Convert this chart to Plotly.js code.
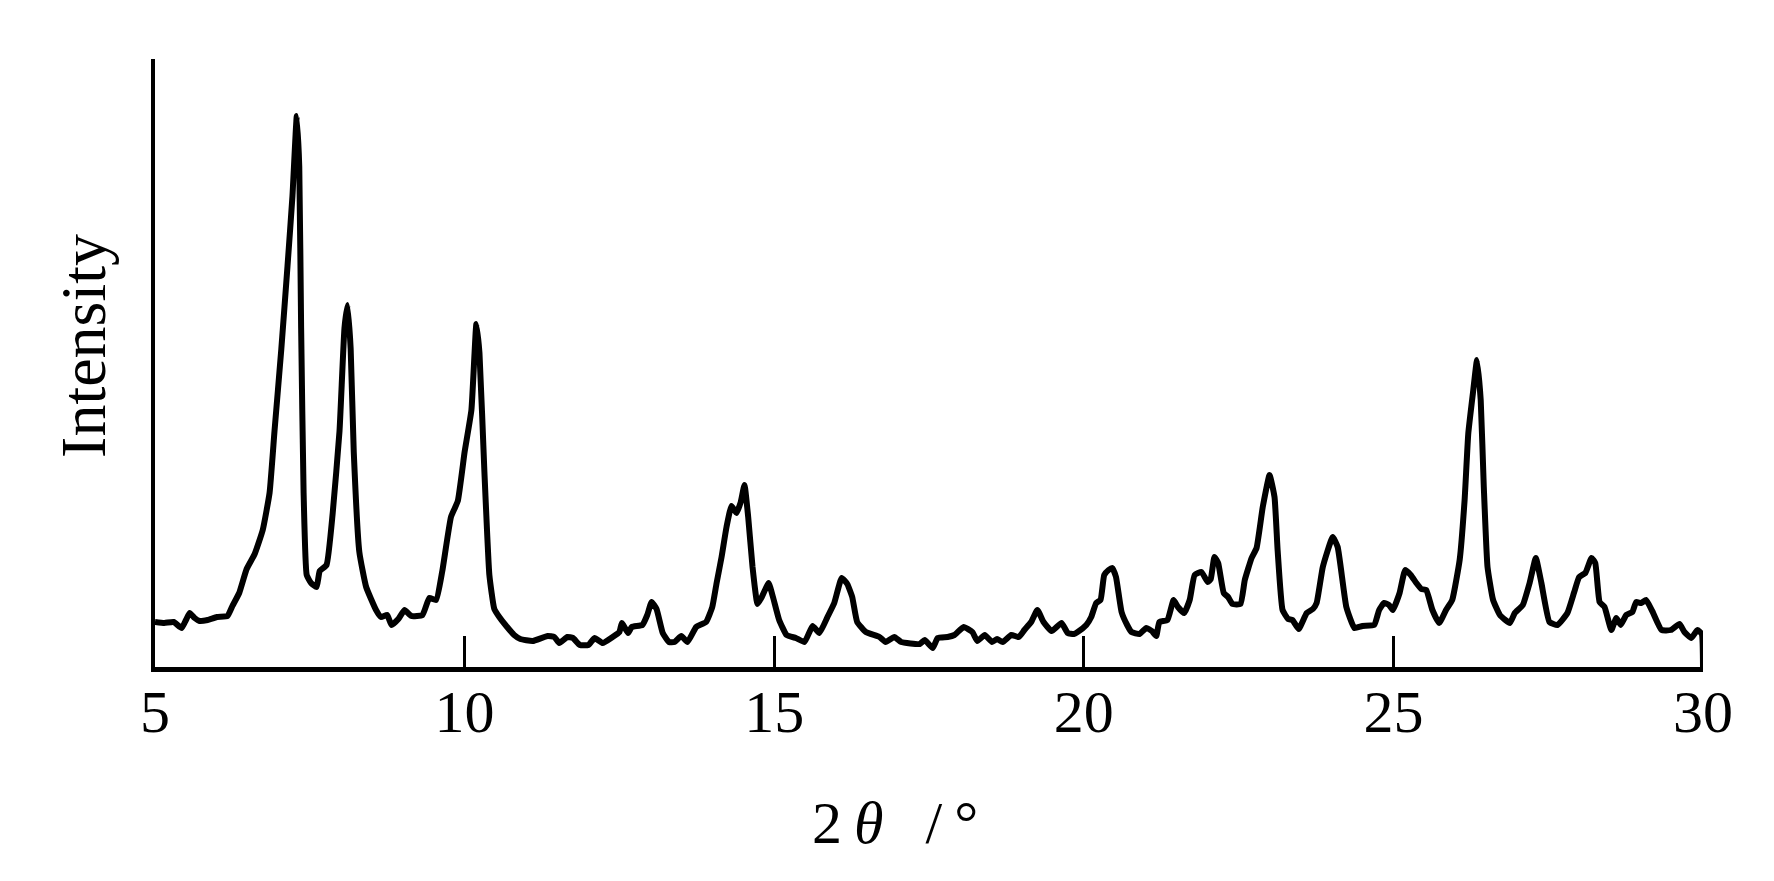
<!DOCTYPE html>
<html>
<head>
<meta charset="utf-8">
<script src="https://cdn.plot.ly/plotly-3.0.1.min.js"></script>
<style>html,body{margin:0;padding:0;background:#fff;}#chart{width:1774px;height:881px;}</style>
</head>
<body>
<div id="chart"></div>
<script>
// 2θ (degrees)
const twoTheta = [
5.00,5.15,5.30,5.43,5.50,5.56,5.64,5.72,5.85,6.00,6.17,6.25,6.36,6.48,6.61,6.74,6.85,6.93,7.04,7.14,
7.22,7.29,7.33,7.36,7.40,7.45,7.52,7.61,7.66,7.77,7.87,7.98,8.06,8.11,8.16,8.21,8.30,8.41,8.57,8.65,
8.75,8.82,8.93,9.03,9.14,9.32,9.43,9.54,9.64,9.78,9.89,10.00,10.11,10.19,10.24,10.32,10.40,10.48,10.56,10.66,
10.80,10.90,11.10,11.34,11.45,11.53,11.66,11.75,11.86,12.00,12.10,12.23,12.39,12.50,12.54,12.64,12.70,12.87,12.95,13.02,
13.10,13.20,13.30,13.39,13.50,13.60,13.74,13.90,14.00,14.07,14.15,14.23,14.31,14.39,14.46,14.52,14.58,14.65,14.73,14.80,
14.91,14.98,15.08,15.20,15.35,15.49,15.62,15.73,15.86,15.97,16.09,16.18,16.26,16.34,16.48,16.70,16.80,16.94,17.05,17.35,
17.43,17.56,17.64,17.80,17.91,18.06,18.20,18.28,18.40,18.52,18.60,18.69,18.83,18.95,19.04,19.15,19.25,19.35,19.48,19.64,
19.74,19.84,19.90,20.04,20.12,20.20,20.27,20.33,20.40,20.46,20.52,20.61,20.70,20.77,20.90,21.01,21.10,21.17,21.22,21.35,
21.45,21.52,21.62,21.71,21.79,21.90,22.00,22.05,22.11,22.17,22.26,22.33,22.40,22.53,22.60,22.71,22.79,22.89,23.00,23.08,
23.13,23.21,23.30,23.37,23.47,23.60,23.70,23.76,23.86,24.02,24.10,24.24,24.37,24.50,24.69,24.77,24.85,24.93,24.99,25.10,
25.19,25.28,25.37,25.45,25.53,25.63,25.74,25.85,25.95,26.07,26.15,26.21,26.29,26.35,26.41,26.46,26.52,26.61,26.72,26.88,
26.96,27.09,27.20,27.30,27.39,27.52,27.65,27.81,27.92,28.00,28.10,28.20,28.26,28.33,28.41,28.52,28.60,28.67,28.76,28.86,
28.92,29.00,29.08,29.18,29.33,29.48,29.62,29.70,29.81,29.91,29.98,30.00
];
// Intensity (arbitrary units)
const intensity = [
45,44,45,39,47,54,49,46,47,50,51,61,74,98,113,137,174,236,318,401,
471,551,500,339,174,92,84,80,96,102,154,236,339,362,318,215,115,80,57,50,
52,42,48,57,51,52,69,67,96,150,166,215,257,343,314,195,92,58,50,42,
32,28,26,31,30,24,30,29,22,22,29,24,30,35,44,34,40,42,52,65,
58,34,25,25,31,25,40,45,60,84,110,140,161,154,165,182,150,100,63,70,
84,70,47,32,29,25,41,34,50,64,89,83,70,45,35,30,25,30,25,23,
27,19,29,30,32,40,35,26,32,25,28,25,32,30,37,45,57,45,36,44,
34,33,35,42,50,64,67,92,97,99,90,55,42,35,33,39,36,31,45,47,
67,60,54,67,92,95,85,88,110,104,74,70,63,63,87,109,119,160,192,170,
117,57,48,47,38,54,58,64,100,130,120,60,39,41,42,57,64,62,57,74,
97,92,84,78,77,57,44,57,67,107,167,234,277,307,267,180,100,67,52,44,
54,62,84,109,84,45,42,54,75,90,94,109,104,65,60,37,49,42,52,55,
65,64,67,56,37,37,43,35,29,37,33,0
];
const tickValues = [5, 10, 15, 20, 25, 30];
const tickLabels = ["5", "10", "15", "20", "25", "30"];
const xTitle = "2\u2009<i>θ</i>\u00A0\u00A0\u2009/\u2009°";
const yTitle = "Intensity";

const serif = "Liberation Serif, Times New Roman, serif";

const trace = {
  x: twoTheta,
  y: intensity,
  type: "scatter",
  mode: "lines",
  line: {color: "#000", width: 6, shape: "spline", smoothing: 0.4},
  hoverinfo: "skip"
};

const layout = {
  width: 1774,
  height: 881,
  margin: {l: 155, r: 71, t: 59, b: 214},
  paper_bgcolor: "#fff",
  plot_bgcolor: "#fff",
  showlegend: false,
  xaxis: {
    range: [5, 30],
    showline: true,
    linecolor: "#000",
    linewidth: 4.5,
    ticks: "inside",
    ticklen: 31,
    tickwidth: 3,
    tickcolor: "#000",
    tickmode: "array",
    tickvals: tickValues,
    ticktext: tickLabels,
    tickfont: {family: serif, size: 60, color: "#000"},
    ticklabelstandoff: -12,
    showgrid: false,
    zeroline: false,
    fixedrange: true
  },
  yaxis: {
    range: [0, 608],
    showline: true,
    linecolor: "#000",
    linewidth: 4.5,
    ticks: "",
    showticklabels: false,
    showgrid: false,
    zeroline: false,
    fixedrange: true
  },
  annotations: [
    {
      text: xTitle,
      xref: "paper", yref: "paper",
      x: 0.478, y: -0.2566,
      xanchor: "center", yanchor: "middle",
      showarrow: false,
      font: {family: serif, size: 60, color: "#000"}
    },
    {
      text: yTitle,
      xref: "paper", yref: "paper",
      x: -0.0459, y: 0.528,
      xanchor: "center", yanchor: "middle",
      textangle: -90,
      showarrow: false,
      font: {family: serif, size: 64, color: "#000"}
    }
  ]
};

Plotly.newPlot("chart", [trace], layout, {displayModeBar: false, staticPlot: true});
</script>
</body>
</html>
